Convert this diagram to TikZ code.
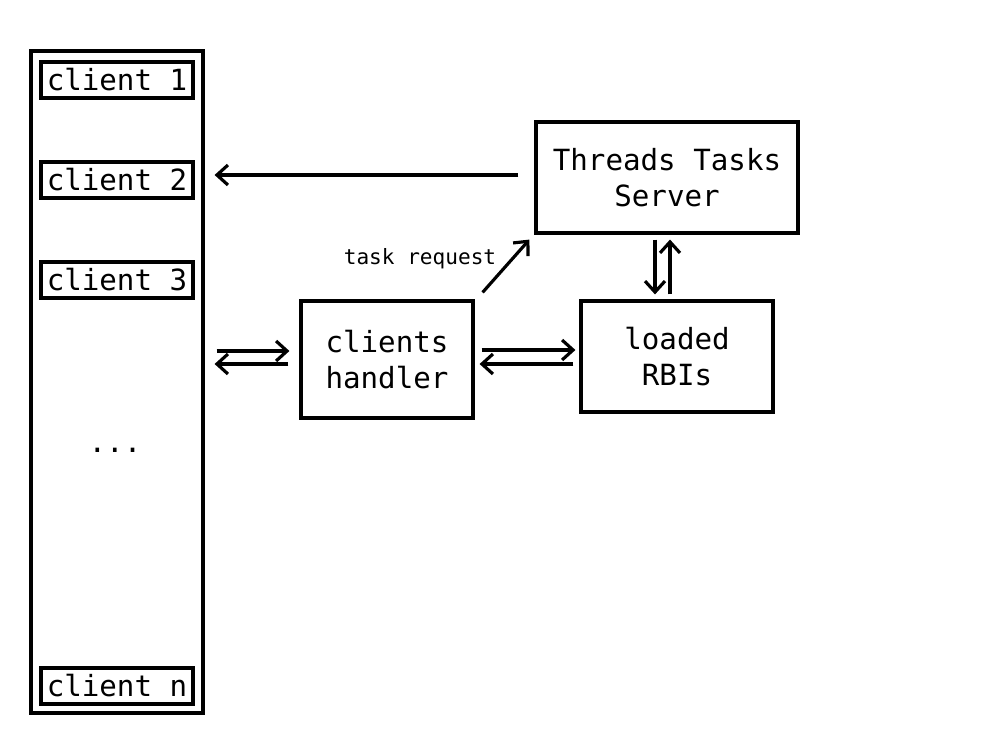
\documentclass[tikz,border=0pt]{standalone}
\usepackage{fontspec}
\setmonofont{DejaVu Sans Mono}
\usetikzlibrary{positioning, arrows.meta}

\begin{document}
\begin{tikzpicture}[-{Straight Barb[length=2.2mm,width=4mm]}, line width=1.8pt,
      inner sep=0pt, font=\ttfamily\fontsize{16.6}{20.5}\selectfont,
      box/.style={draw, line width=1.8pt, align=center},
      client/.style={box, minimum width=3.04cm, minimum height=0.72cm}]
      \useasboundingbox (0,0) rectangle (20,15);
      % clients column
      \node[box, minimum width=3.44cm, minimum height=13.24cm](col) at(2.34,7.36) {};
      \node[client](c_1) at(2.34,13.4) {client 1};
      \node[client](c_2) at(2.34,11.4) {client 2};
      \node[client](c_3) at(2.34,9.4) {client 3};
      \node (dots) at(2.3,6.0) {...};
      \node[client](c_n) at(2.34,1.28) {client n};
      % server, handler, RBIs
      \node[box, minimum width=5.24cm, minimum height=2.22cm](srv) at(13.34,11.45) {Threads Tasks\\Server};
      \node[box, minimum width=3.44cm, minimum height=2.34cm](hnd) at(7.74,7.81) {clients\\handler};
      \node[box, minimum width=3.84cm, minimum height=2.22cm](rbi) at(13.54,7.87) {loaded\\RBIs};
      \node[font=\ttfamily\fontsize{12}{14}\selectfont](req) at(8.4,9.82) {task request};
      % arrows
      \draw ([shift={(-0.32,0.05)}]srv.west) -- ([shift={(0.2,0.05)}]srv.west -| col.east);
      \draw ([shift={(0.24,0.17)}]col.east |- hnd.west) -- ([shift={(-0.2,0.17)}]hnd.west);
      \draw ([shift={(-0.22,-0.09)}]hnd.west) -- ([shift={(0.2,-0.09)}]col.east |- hnd.west);
      \draw ([shift={(0.14,0.19)}]hnd.east) -- ([shift={(-0.08,0.19)}]hnd.east -| rbi.west);
      \draw ([shift={(-0.12,-0.09)}]hnd.east -| rbi.west) -- ([shift={(0.1,-0.09)}]hnd.east);
      \draw ([shift={(0.16,0.14)}]hnd.north east) -- ([shift={(-0.1,-0.1)}]srv.south west);
      \draw ([shift={(-0.24,-0.1)}]srv.south) -- ([shift={(-0.24,0.1)}]srv.south |- rbi.north);
      \draw ([shift={(0.06,0.1)}]srv.south |- rbi.north) -- ([shift={(0.06,-0.1)}]srv.south);
\end{tikzpicture}
\end{document}
